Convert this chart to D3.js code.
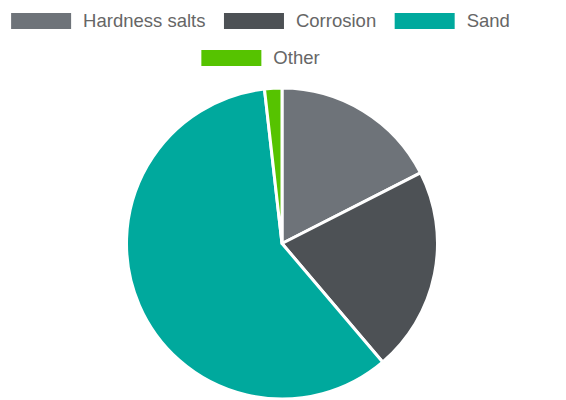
<!DOCTYPE html>
<html>
<head>
<meta charset="utf-8">
<script src="https://cdn.jsdelivr.net/npm/d3@7"></script>
<style>
  html, body { margin: 0; padding: 0; background: #fff; }
  svg { display: block; }
</style>
</head>
<body>
<svg id="chart" width="566" height="400"></svg>
<script>
// Deposit composition (percent share)
const categories = ["Hardness salts", "Corrosion", "Sand", "Other"];
const values = [17.5, 21.3, 59.4, 1.8];
const colors = ["#6e7379", "#4d5155", "#00a99d", "#56c300"];

const width = 566, height = 400;
const svg = d3.select("#chart");

// ---- Legend (wrapped rows, centred) ----
const fontSize = 18.5;
const boxW = 60, boxH = 16, boxGap = 12, itemGap = 18.5;
const legendCenterX = 260.5;
const rowY = [21, 58];
const maxRowW = 520;

const legend = svg.append("g").attr("class", "legend");
const items = categories.map((c, i) => {
  const g = legend.append("g");
  g.append("rect").attr("width", boxW).attr("height", boxH)
    .attr("y", -boxH / 2).attr("fill", colors[i]);
  const t = g.append("text").attr("x", boxW + boxGap).attr("dy", "0.35em")
    .attr("font-family", "Liberation Sans, Arial, sans-serif")
    .attr("font-size", fontSize).attr("fill", "#666").text(c);
  const w = boxW + boxGap + t.node().getComputedTextLength();
  return { g, w };
});

// split into rows
const rows = [[]];
let cur = 0;
items.forEach(it => {
  const add = (rows[rows.length - 1].length ? itemGap : 0) + it.w;
  if (cur + add > maxRowW && rows[rows.length - 1].length) {
    rows.push([it]); cur = it.w;
  } else {
    rows[rows.length - 1].push(it); cur += add;
  }
});
rows.forEach((row, r) => {
  const total = d3.sum(row, d => d.w) + itemGap * (row.length - 1);
  let x = legendCenterX - total / 2;
  row.forEach(it => {
    it.g.attr("transform", `translate(${x},${rowY[r]})`);
    x += it.w + itemGap;
  });
});

// ---- Pie ----
const cx = 282, cy = 243.5, radius = 155.5;
const pie = d3.pie().sort(null).value(d => d)(values);
const arc = d3.arc().innerRadius(0).outerRadius(radius);

svg.append("g").attr("transform", `translate(${cx},${cy})`)
  .selectAll("path").data(pie).join("path")
  .attr("d", arc)
  .attr("fill", (d, i) => colors[i])
  .attr("stroke", "#fff")
  .attr("stroke-width", 3)
  .attr("stroke-linejoin", "round");
</script>
</body>
</html>
